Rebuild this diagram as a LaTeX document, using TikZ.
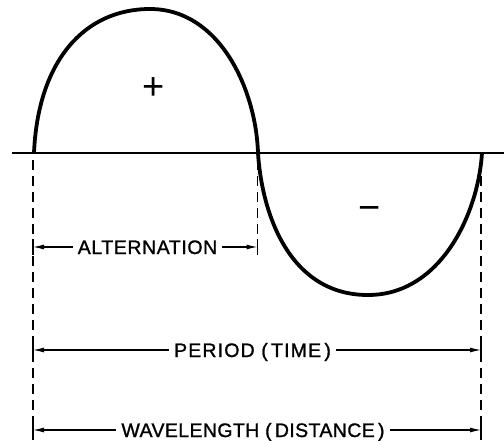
\documentclass[tikz,border=0pt]{standalone}
\usepackage{fontspec}
\setmainfont{Liberation Sans}
\usetikzlibrary{arrows.meta}
\begin{document}
\begin{tikzpicture}[x=1pt,y=-1pt,
  wave/.style={line width=3.8pt},
  axisline/.style={line width=1.4pt},
  guide/.style={line width=1.1pt, dash pattern=on 10pt off 6pt},
  dimline/.style={line width=1.1pt, -{Latex[length=11pt,width=5pt]}},
  tickbar/.style={line width=1.2pt},
  lbl/.style={font=\fontsize{19.5}{19.5}\selectfont\addfontfeatures{LetterSpace=#1,FakeBold=1.2},
              text height=14pt, text depth=0pt, inner sep=5pt},
  lbl/.default=3,
  sign/.style={font=\fontsize{38}{38}\selectfont, inner sep=0pt}]
\useasboundingbox (0,0) rectangle (504,440);
% axis
\coordinate (axL) at (12,153);
\coordinate (axR) at (504,153);
\draw[axisline] (axL) -- (axR);
% wave
\draw[wave] (34,153) .. controls (38,60) and (85,9) .. (150,9)
  .. controls (220,9) and (256,90) .. (258,153)
  .. controls (262,215) and (290,295) .. (368,295)
  .. controls (440,295) and (478,215) .. (482,153);
% signs
\node[sign] (plus) at (154,89) {+};
\node[sign] (minus) at (370,213) {−};
% guides
\coordinate (g1t) at (33,160);   \coordinate (g1b) at (33,440);
\coordinate (g2t) at (257.5,160); \coordinate (g2b) at (257.5,256);
\coordinate (g3t) at (481,160);  \coordinate (g3b) at (481,440);
\draw[guide] (g1t) -- (g1b);
\draw[guide] (g2t) -- (g2b);
\draw[guide] (g3t) -- (g3b);
% alternation
\coordinate (aL) at (33,247); \coordinate (aR) at (257.5,247);
\node[lbl] (alt) at (147.5,247) {ALTERNATION};
\draw[dimline] (alt.west) -- (aL);
\draw[dimline] (alt.east) -- (aR);
% period
\coordinate (pL) at (33,350); \coordinate (pR) at (481,350);
\node[lbl=6] (per) at (252.5,350) {PERIOD (\,TIME\,)};
\draw[dimline] (per.west) -- (pL);
\draw[dimline] (per.east) -- (pR);
% wavelength
\coordinate (wL) at (33,430); \coordinate (wR) at (481,430);
\node[lbl=2] (wav) at (253,430) {WAVELENGTH (\,DISTANCE\,)};
\draw[dimline] (wav.west) -- (wL);
\draw[dimline] (wav.east) -- (wR);
% end bars
\foreach \c in {aL,aR,pL,pR,wL,wR}
  \draw[tickbar] ([yshift=-8pt]\c) -- ([yshift=8pt]\c);
\end{tikzpicture}
\end{document}
